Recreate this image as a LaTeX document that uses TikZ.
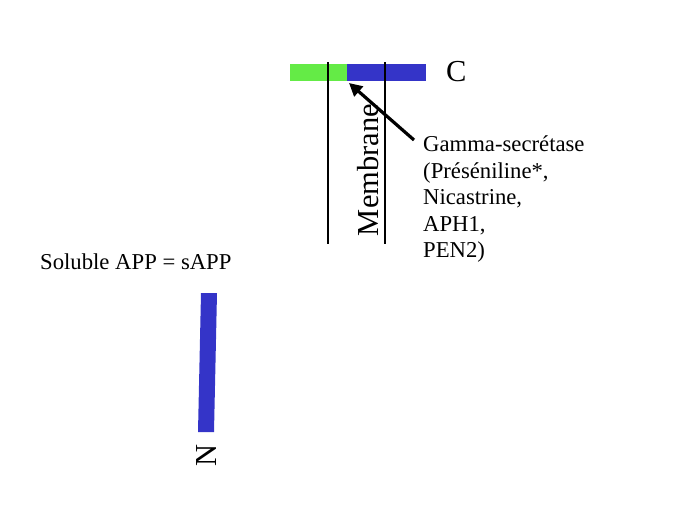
\documentclass[tikz,border=0pt]{standalone}
\usepackage{fontspec}
\setmainfont{Liberation Serif}
\usetikzlibrary{arrows.meta}
\definecolor{appgreen}{RGB}{100,235,70}
\definecolor{appblue}{RGB}{52,52,200}
\begin{document}
\begin{tikzpicture}[x=1pt,y=-1pt,
  lbl/.style={inner sep=0pt,font=\fontsize{22.7}{26.5}\selectfont,align=left},
  big/.style={inner sep=0pt,font=\fontsize{30.5}{34}\selectfont},
  memline/.style={line width=1.8pt},
  bar/.style={draw=none}]
\useasboundingbox (0,0) rectangle (689,517);
% C-terminal fragment
\fill[appgreen] (290,64) rectangle (347,81);
\fill[appblue] (347,64) rectangle (426,81);
\coordinate (cut) at (349,83);
% membrane
\coordinate (m1t) at (328,62); \coordinate (m1b) at (328,244);
\coordinate (m2t) at (385,62); \coordinate (m2b) at (385,244);
\draw[memline] (m1t) -- (m1b);
\draw[memline] (m2t) -- (m2b);
\node[big,rotate=90,anchor=center] (mem) at (368,170) {Membrane};
\node[big,anchor=west] (C) at (446,72) {C};
% gamma secretase
\node[lbl,anchor=north west] (gs) at (423,136) {Gamma-secrétase\\(Préséniline*,\\Nicastrine,\\APH1,\\PEN2)};
\coordinate (tail) at (414,140);
\draw[line width=3.2pt,-{Triangle[length=13pt,width=13pt]}] (tail) -- (cut);
% soluble APP
\node[lbl,anchor=base west] (sapp) at (40,269) {Soluble APP = sAPP};
\fill[appblue] (201,293) -- (217,293) -- (214,432) -- (198,432) -- cycle;
\node[big,rotate=90,anchor=center] (N) at (207,455) {N};
\end{tikzpicture}
\end{document}
